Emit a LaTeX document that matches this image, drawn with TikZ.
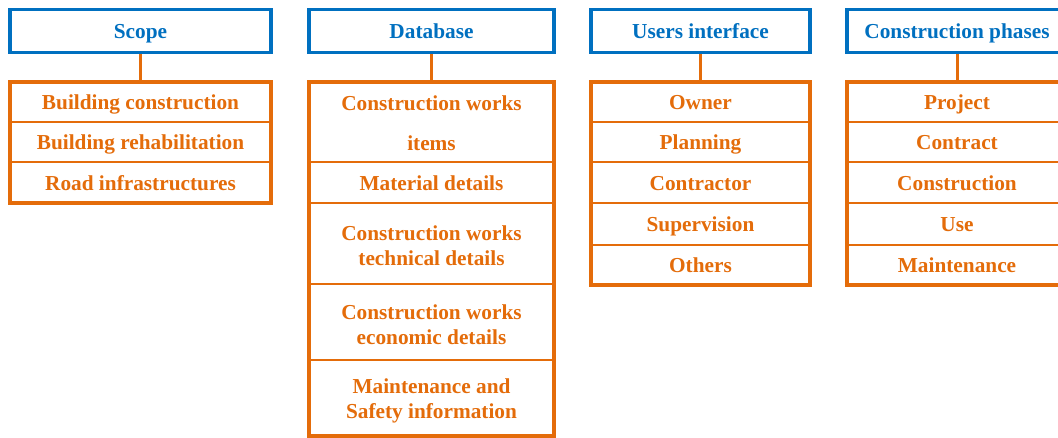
\documentclass[tikz,border=0pt]{standalone}
\usepackage{fontspec}
\setmainfont{Liberation Serif}
\pgfdeclarelayer{background}
\pgfsetlayers{background,main}
\definecolor{hblue}{RGB}{0,112,192}
\definecolor{lorange}{RGB}{228,108,10}
\tikzset{
  txt/.style={font=\bfseries\fontsize{21.3}{25}\selectfont},
  head/.style={txt, draw=hblue, line width=3.5pt, text=hblue, inner sep=0pt, outer sep=0pt,
    minimum height=43pt, text height=16pt, text depth=0pt},
  row/.style={txt, inner sep=0pt, outer sep=0pt, text=lorange, text height=16pt, text depth=0pt},
  cell/.style={inner sep=0pt, outer sep=0pt},
  celltext/.style={txt, inner sep=0pt, text=lorange, align=center},
  frame/.style={draw=lorange, line width=3.5pt},
  sepline/.style={draw=lorange, line width=2pt},
  link/.style={draw=lorange, line width=3pt}
}
\begin{document}
\begin{tikzpicture}[x=1pt,y=-1pt]
\clip (0,0) rectangle (1058,438);

% ---- Scope ----
\node[head, minimum width=261pt] (t1) at (140.5,31) {Scope};
\node[row, minimum width=261pt, minimum height=40pt] (s1) at (140.5,102) {Building construction};
\node[row, minimum width=261pt, minimum height=40pt] (s2) at (140.5,142) {Building rehabilitation};
\node[row, minimum width=261pt, minimum height=41pt] (s3) at (140.5,182.5) {Road infrastructures};
\draw[sepline] (s1.south west) -- (s1.south east);
\draw[sepline] (s2.south west) -- (s2.south east);
\draw[frame] (s1.north west) rectangle (s3.south east);

% ---- Database ----
\node[head, minimum width=245pt] (t2) at (431.5,31) {Database};
\node[cell, minimum width=245pt, minimum height=80pt] (d1) at (431.5,122) {};
\node[celltext] (d1t) at (431.5,123) {Construction works\\[15pt]items};
\node[row, minimum width=245pt, minimum height=41pt] (d2) at (431.5,182.5) {Material details};
\node[cell, minimum width=245pt, minimum height=81pt] (d3) at (431.5,243.5) {};
\node[celltext] (d3t) at (431.5,246) {Construction works\\technical details};
\node[cell, minimum width=245pt, minimum height=76pt] (d4) at (431.5,322) {};
\node[celltext] (d4t) at (431.5,324.5) {Construction works\\economic details};
\node[cell, minimum width=245pt, minimum height=76pt] (d5) at (431.5,398) {};
\node[celltext] (d5t) at (431.5,400.5) {Maintenance and\\Safety information};
\draw[sepline] (d1.south west) -- (d1.south east);
\draw[sepline] (d2.south west) -- (d2.south east);
\draw[sepline] (d3.south west) -- (d3.south east);
\draw[sepline] (d4.south west) -- (d4.south east);
\draw[frame] (d1.north west) rectangle (d5.south east);

% ---- Users interface ----
\node[head, minimum width=219pt] (t3) at (700.5,31) {Users interface};
\node[row, minimum width=219pt, minimum height=40pt] (u1) at (700.5,102) {Owner};
\node[row, minimum width=219pt, minimum height=40pt] (u2) at (700.5,142) {Planning};
\node[row, minimum width=219pt, minimum height=41pt] (u3) at (700.5,182.5) {Contractor};
\node[row, minimum width=219pt, minimum height=42pt] (u4) at (700.5,224) {Supervision};
\node[row, minimum width=219pt, minimum height=40pt] (u5) at (700.5,265) {Others};
\draw[sepline] (u1.south west) -- (u1.south east);
\draw[sepline] (u2.south west) -- (u2.south east);
\draw[sepline] (u3.south west) -- (u3.south east);
\draw[sepline] (u4.south west) -- (u4.south east);
\draw[frame] (u1.north west) rectangle (u5.south east);

% ---- Construction phases ----
\node[head, minimum width=220pt] (t4) at (957,31) {Construction phases};
\node[row, minimum width=220pt, minimum height=40pt] (p1) at (957,102) {Project};
\node[row, minimum width=220pt, minimum height=40pt] (p2) at (957,142) {Contract};
\node[row, minimum width=220pt, minimum height=41pt] (p3) at (957,182.5) {Construction};
\node[row, minimum width=220pt, minimum height=42pt] (p4) at (957,224) {Use};
\node[row, minimum width=220pt, minimum height=40pt] (p5) at (957,265) {Maintenance};
\draw[sepline] (p1.south west) -- (p1.south east);
\draw[sepline] (p2.south west) -- (p2.south east);
\draw[sepline] (p3.south west) -- (p3.south east);
\draw[sepline] (p4.south west) -- (p4.south east);
\draw[frame] (p1.north west) rectangle (p5.south east);

% ---- links from headings to their lists ----
\begin{pgfonlayer}{background}
\fill[white] (0,0) rectangle (1058,438);
\draw[link] (t1.south) -- (s1.north);
\draw[link] (t2.south) -- (d1.north);
\draw[link] (t3.south) -- (u1.north);
\draw[link] (t4.south) -- (p1.north);
\end{pgfonlayer}
\end{tikzpicture}
\end{document}
